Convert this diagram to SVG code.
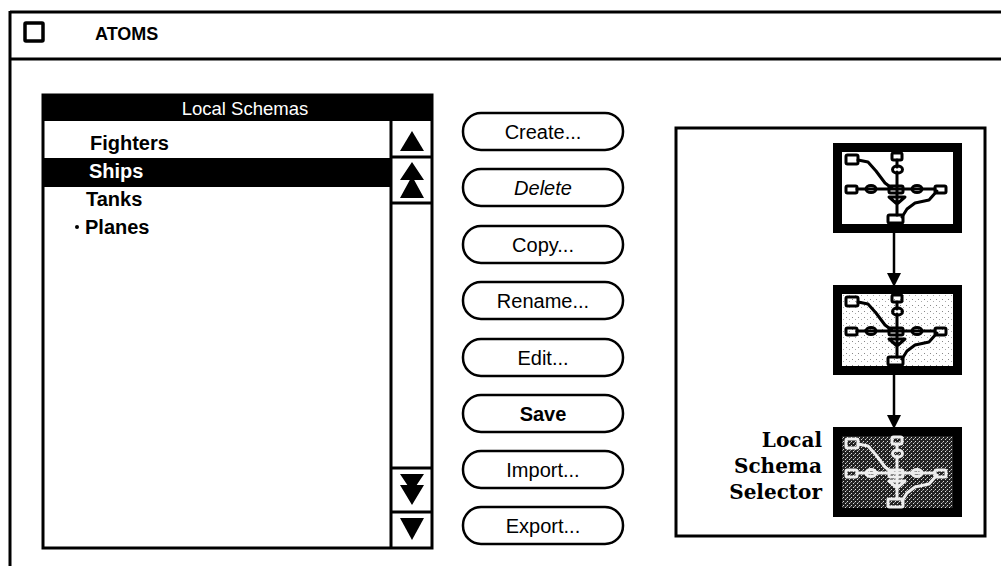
<svg xmlns="http://www.w3.org/2000/svg" width="1001" height="566" viewBox="0 0 1001 566">
<defs>
<style>
.ln{fill:none;stroke:#000;stroke-width:3}
.btn{fill:#fff;stroke:#000;stroke-width:2.5}
.bt{font-family:"Liberation Sans",Arial,sans-serif;font-size:20px;fill:#000;text-anchor:middle}
.it{font-family:"Liberation Sans",Arial,sans-serif;font-size:20px;font-weight:bold;fill:#000}
.sel{font-family:"DejaVu Serif","Liberation Serif",serif;font-size:20px;font-weight:bold;fill:#000;text-anchor:end}
.g{fill:none;stroke-width:3;stroke-linecap:round;stroke-linejoin:round}
</style>
<pattern id="light" width="6" height="6" patternUnits="userSpaceOnUse">
<rect width="6" height="6" fill="#fff"/>
<rect x="1" y="2" width="1" height="1" fill="#888"/>
<rect x="4" y="4" width="1" height="1" fill="#aaa"/>
</pattern>
<pattern id="dark" width="4" height="4" patternUnits="userSpaceOnUse">
<rect width="4" height="4" fill="#222"/>
<rect x="0" y="0" width="1" height="1" fill="#ddd"/>
<rect x="2" y="2" width="1" height="1" fill="#ddd"/>
<rect x="1" y="3" width="1" height="1" fill="#888"/>
</pattern>
<g id="graph">
<path d="M25,17 L35,19 L43,28 L52,40 L60,46 M64,17 L64,24 M64,29 L64,72 M24,46 L102,46 M56,54 L72,54 L64,61 Z M64,60 L64,72 M69,74 L74,66 L82,60 L96,57 L104,48"/>
<rect x="13" y="12" width="12" height="9" rx="1.5"/>
<rect x="59" y="10" width="10" height="7" rx="1.5"/>
<ellipse cx="64.5" cy="26.5" rx="5" ry="3.5"/>
<rect x="13" y="43" width="11" height="7" rx="1.5"/>
<ellipse cx="38" cy="46" rx="5" ry="3.5"/>
<rect x="56" y="43" width="14" height="7" rx="1.5"/>
<ellipse cx="84" cy="46" rx="5" ry="3.5"/>
<rect x="102" y="43" width="11" height="7" rx="1.5"/>
<rect x="55" y="72" width="15" height="8" rx="1.5"/>
</g>
</defs>

<g id="window">
<line x1="10" y1="12" x2="1001" y2="12" class="ln"/>
<line x1="10" y1="11" x2="10" y2="566" class="ln"/>
<line x1="10" y1="59" x2="1001" y2="59" class="ln"/>
<rect x="25" y="23" width="18" height="18" rx="1" fill="none" stroke="#000" stroke-width="3.5"/>
<text x="95" y="40" font-family="Liberation Sans,Arial,sans-serif" font-size="18" font-weight="bold" fill="#000">ATOMS</text>
</g>

<g id="list">
<rect x="43" y="95" width="389" height="453" fill="#fff" stroke="#000" stroke-width="3"/>
<rect x="43" y="95" width="389" height="26" fill="#000"/>
<text x="245" y="115" font-family="Liberation Sans,Arial,sans-serif" font-size="18.5" fill="#fff" text-anchor="middle">Local Schemas</text>
<rect x="43" y="158" width="348" height="29" fill="#000"/>
<text x="90" y="150" class="it">Fighters</text>
<text x="89" y="178" class="it" style="fill:#fff">Ships</text>
<text x="86" y="206" class="it">Tanks</text>
<circle cx="77" cy="227" r="2" fill="#000"/>
<text x="85" y="234" class="it">Planes</text>
<line x1="391" y1="121" x2="391" y2="548" class="ln"/>
<line x1="391" y1="157" x2="432" y2="157" class="ln"/>
<line x1="391" y1="203" x2="432" y2="203" class="ln"/>
<line x1="391" y1="468" x2="432" y2="468" class="ln"/>
<line x1="391" y1="512" x2="432" y2="512" class="ln"/>
<path d="M412,131 L424,151 L400,151 Z" fill="#000"/>
<path d="M412,162 L424,180 L400,180 Z M412,176 L424,198 L400,198 Z" fill="#000"/>
<path d="M400,474 L424,474 L412,492 Z M400,485 L424,485 L412,505 Z" fill="#000"/>
<path d="M400,518 L424,518 L412,540 Z" fill="#000"/>
</g>

<g id="buttons">
<g id="btn-create"><rect x="463" y="113" width="160" height="37" rx="18" class="btn"/><text x="543" y="139" class="bt">Create...</text></g>
<g id="btn-delete"><rect x="463" y="169" width="160" height="37" rx="18" class="btn"/><text x="543" y="195" class="bt" font-style="italic">Delete</text></g>
<g id="btn-copy"><rect x="463" y="226" width="160" height="37" rx="18" class="btn"/><text x="543" y="252" class="bt">Copy...</text></g>
<g id="btn-rename"><rect x="463" y="282" width="160" height="37" rx="18" class="btn"/><text x="543" y="308" class="bt">Rename...</text></g>
<g id="btn-edit"><rect x="463" y="339" width="160" height="37" rx="18" class="btn"/><text x="543" y="365" class="bt">Edit...</text></g>
<g id="btn-save"><rect x="463" y="395" width="160" height="37" rx="18" class="btn"/><text x="543" y="421" class="bt" font-weight="bold">Save</text></g>
<g id="btn-import"><rect x="463" y="451" width="160" height="37" rx="18" class="btn"/><text x="543" y="477" class="bt">Import...</text></g>
<g id="btn-export"><rect x="463" y="507" width="160" height="37" rx="18" class="btn"/><text x="543" y="533" class="bt">Export...</text></g>
</g>

<g id="selector">
<rect x="676" y="128" width="309" height="408" fill="#fff" stroke="#000" stroke-width="3"/>
<g id="thumb1" transform="translate(833,143)">
<rect x="4.5" y="4.5" width="120" height="81" fill="#fff" stroke="#000" stroke-width="9"/>
<use href="#graph" fill="#fff" stroke="#000" class="g"/>
</g>
<g id="thumb2" transform="translate(833,285)">
<rect x="4.5" y="4.5" width="120" height="81" fill="url(#light)" stroke="#000" stroke-width="9"/>
<use href="#graph" fill="#fff" stroke="#000" class="g"/>
</g>
<g id="thumb3" transform="translate(833,427)">
<rect x="4.5" y="4.5" width="120" height="81" fill="url(#dark)" stroke="#000" stroke-width="9"/>
<use href="#graph" fill="#fff" stroke="#eee" class="g"/>
</g>
<text x="822" y="447" class="sel">Local</text>
<text x="822" y="473" class="sel">Schema</text>
<text x="822" y="499" class="sel">Selector</text>
</g>

<g id="connectors">
<line x1="894" y1="233" x2="894" y2="276" stroke="#000" stroke-width="2.5"/>
<path d="M887,273 L901,273 L894,287 Z" fill="#000"/>
<line x1="894" y1="375" x2="894" y2="418" stroke="#000" stroke-width="2.5"/>
<path d="M887,415 L901,415 L894,429 Z" fill="#000"/>
</g>
</svg>
